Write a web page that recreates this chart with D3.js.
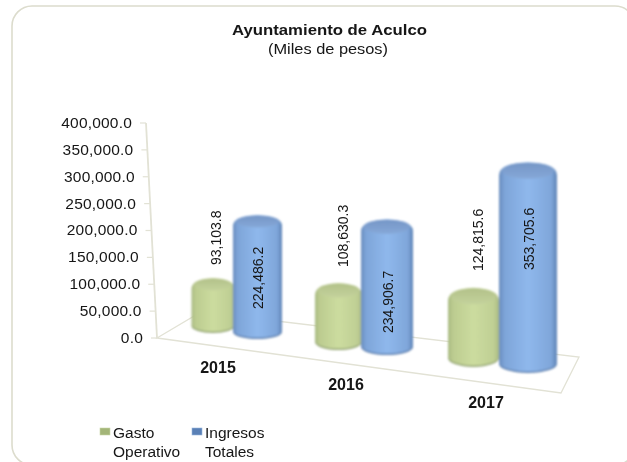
<!DOCTYPE html>
<html><head><meta charset="utf-8">
<script src="https://cdn.jsdelivr.net/npm/d3@7"></script>
<style>html,body{margin:0;padding:0;background:#fff}svg{display:block}text{font-family:"Liberation Sans",Arial,sans-serif;fill:#151515}</style>
</head><body><div id="c"></div>
<script>
const years = ["2015","2016","2017"];
const gastoOperativo = [93103.8,108630.3,124815.6];
const ingresosTotales = [224486.2,234906.7,353705.6];
const gastoLabels = ["93,103.8","108,630.3","124,815.6"];
const ingresosLabels = ["224,486.2","234,906.7","353,705.6"];
const yTicks = [0,50000,100000,150000,200000,250000,300000,350000,400000];
const legendGasto = ["Gasto","Operativo"];
const legendIngresos = ["Ingresos","Totales"];

const W=627,H=462;
const svg=d3.select("#c").append("svg").attr("width",W).attr("height",H);
const defs=svg.append("defs");
function grad(id,stops,vertical){
  const g=defs.append("linearGradient").attr("id",id).attr("x1",0).attr("x2",vertical?0:1).attr("y1",0).attr("y2",vertical?1:0);
  stops.forEach(s=>g.append("stop").attr("offset",s[0]).attr("stop-color",s[1]));
}
grad("gBody",[[0,"#a9ba82"],[.1,"#bccc90"],[.5,"#ccdc9f"],[.9,"#bfcf94"],[1,"#a8b882"]]);
grad("bBody",[[0,"#6a8dbe"],[.1,"#7ea5d9"],[.5,"#8fb8ec"],[.9,"#7fa6da"],[1,"#5f84b6"]]);
grad("gTop",[[0,"#b2c189"],[1,"#c4d29c"]],true);
grad("bTop",[[0,"#7596c6"],[1,"#86a8d8"]],true);
defs.append("filter").attr("id","soft").append("feGaussianBlur").attr("stdDeviation",0.9);
defs.append("filter").attr("id","softT").append("feGaussianBlur").attr("stdDeviation",0.3);

svg.append("rect").attr("x",12).attr("y",6).attr("width",623).attr("height",459).attr("rx",20)
  .attr("fill","#fff").attr("stroke","#dcdccd").attr("stroke-width",1.6);

const txt=svg.append("g").attr("filter","url(#softT)");
txt.append("text").attr("x",329.5).attr("y",35).attr("text-anchor","middle").attr("font-size",15).attr("font-weight","bold")
  .attr("textLength",195).attr("lengthAdjust","spacingAndGlyphs").text("Ayuntamiento de Aculco");
txt.append("text").attr("x",328).attr("y",54).attr("text-anchor","middle").attr("font-size",15)
  .attr("textLength",120).attr("lengthAdjust","spacingAndGlyphs").text("(Miles de pesos)");

// floor
const wallStroke="#e2e2d5";
const floorCorners=[[157,338],[201,312],[579,357],[561,393]];
svg.append("path").attr("d",d3.line()(floorCorners)+"Z").attr("fill","none").attr("stroke",wallStroke).attr("stroke-width",1.3);

// slanted value axis
const y=d3.scaleLinear([0,400000],[338,123]);
const slant=d3.scaleLinear([0,400000],[157,146]);
const axis=d3.axisLeft(y).tickValues(yTicks).tickFormat(d3.format(",.1f")).tickSize(6).tickPadding(8);
const ax=txt.append("g").call(axis);
ax.select(".domain").remove();
ax.selectAll(".tick").attr("transform",d=>`translate(${slant(d)},${y(d)})`);
ax.selectAll(".tick line").attr("stroke",wallStroke).attr("stroke-width",1.2);
ax.selectAll(".tick text").attr("font-size",15.5).attr("letter-spacing",0.2)
  .attr("font-family",'"Liberation Sans",Arial,sans-serif').attr("fill","#151515");
svg.append("line").attr("x1",slant(0)).attr("y1",y(0)).attr("x2",slant(400000)).attr("y2",y(400000)).attr("stroke",wallStroke).attr("stroke-width",1.8);

// bars: perspective placement per category
const seriesDefs=[
 {vals:gastoOperativo,body:"url(#gBody)",top:"url(#gTop)",shade:"#93a473",
  cx:d3.scaleOrdinal(years,[213,338.5,473.5]),base:d3.scaleOrdinal(years,[326,342,358]),
  rx:d3.scaleOrdinal(years,[21.5,23.5,25.5]),ry:d3.scaleOrdinal(years,[7,8,9]),
  h:d3.scaleOrdinal(years,[176,188,196])},
 {vals:ingresosTotales,body:"url(#bBody)",top:"url(#bTop)",shade:"#5d7fae",
  cx:d3.scaleOrdinal(years,[257.5,387,528]),base:d3.scaleOrdinal(years,[332,347,364]),
  rx:d3.scaleOrdinal(years,[24.5,26,29]),ry:d3.scaleOrdinal(years,[7,8,9]),
  h:d3.scaleOrdinal(years,[196,204,218])}
];
const marks=svg.append("g").attr("filter","url(#soft)");
seriesDefs.forEach(s=>{
  const topY=d=>s.base(d.yr)-d3.scaleLinear([0,400000],[0,s.h(d.yr)])(d.v);
  const g=marks.selectAll(null).data(years.map((yr,i)=>({yr,v:s.vals[i]}))).join("g");
  // bottom rim shadow, body with rounded shoulders, top cap
  g.append("ellipse").attr("fill",s.shade)
   .attr("cx",d=>s.cx(d.yr)).attr("rx",d=>s.rx(d.yr)).attr("ry",d=>s.ry(d.yr)).attr("cy",d=>s.base(d.yr));
  g.append("path").attr("fill",s.body).attr("d",d=>{
    const c=s.cx(d.yr),b=s.base(d.yr)-1.5,rx=s.rx(d.yr),ry=s.ry(d.yr),t=topY(d);
    return `M${c-rx},${t+4}Q${c-rx},${t-ry+1} ${c},${t-ry}Q${c+rx},${t-ry+1} ${c+rx},${t+4}L${c+rx},${b}A${rx},${ry} 0 0 1 ${c-rx},${b}Z`;
  });
  g.append("ellipse").attr("fill",s.top)
   .attr("cx",d=>s.cx(d.yr)).attr("rx",d=>s.rx(d.yr)-3).attr("ry",d=>s.ry(d.yr)-1)
   .attr("cy",d=>topY(d)-.5);
});

// data labels
const lab=svg.append("g").attr("filter","url(#softT)");
const labX=d3.scaleOrdinal(gastoLabels.concat(ingresosLabels),[221,348,483,263,393,534]);
const labY=d3.scaleOrdinal(gastoLabels.concat(ingresosLabels),[265,267,271,309,333,270]);
lab.selectAll(null).data(gastoLabels.concat(ingresosLabels)).join("text")
   .attr("font-size",14).attr("text-anchor","start")
   .attr("transform",d=>`translate(${labX(d)},${labY(d)}) rotate(-90)`).text(d=>d);

// category labels
const catX=d3.scaleOrdinal(years,[218,346,486]);
const catY=d3.scaleOrdinal(years,[373,390,408]);
lab.selectAll(null).data(years).join("text").attr("x",d=>catX(d)).attr("y",d=>catY(d))
  .attr("text-anchor","middle").attr("font-size",16).attr("font-weight","bold").text(d=>d);

// legend
function legend(x,tx,lines,c1,c2){
  svg.append("rect").attr("x",x).attr("y",428).attr("width",10).attr("height",7).attr("fill",c1).attr("stroke",c2).attr("stroke-width",.6).attr("filter","url(#softT)");
  lab.append("text").attr("x",tx).attr("y",438).attr("font-size",15.5).text(lines[0]);
  lab.append("text").attr("x",tx).attr("y",457).attr("font-size",15.5).text(lines[1]);
}
legend(100,113,legendGasto,"#a3b578","#c9d6a8");
legend(192,205,legendIngresos,"#5a80b6","#98b6de");
</script></body></html>
